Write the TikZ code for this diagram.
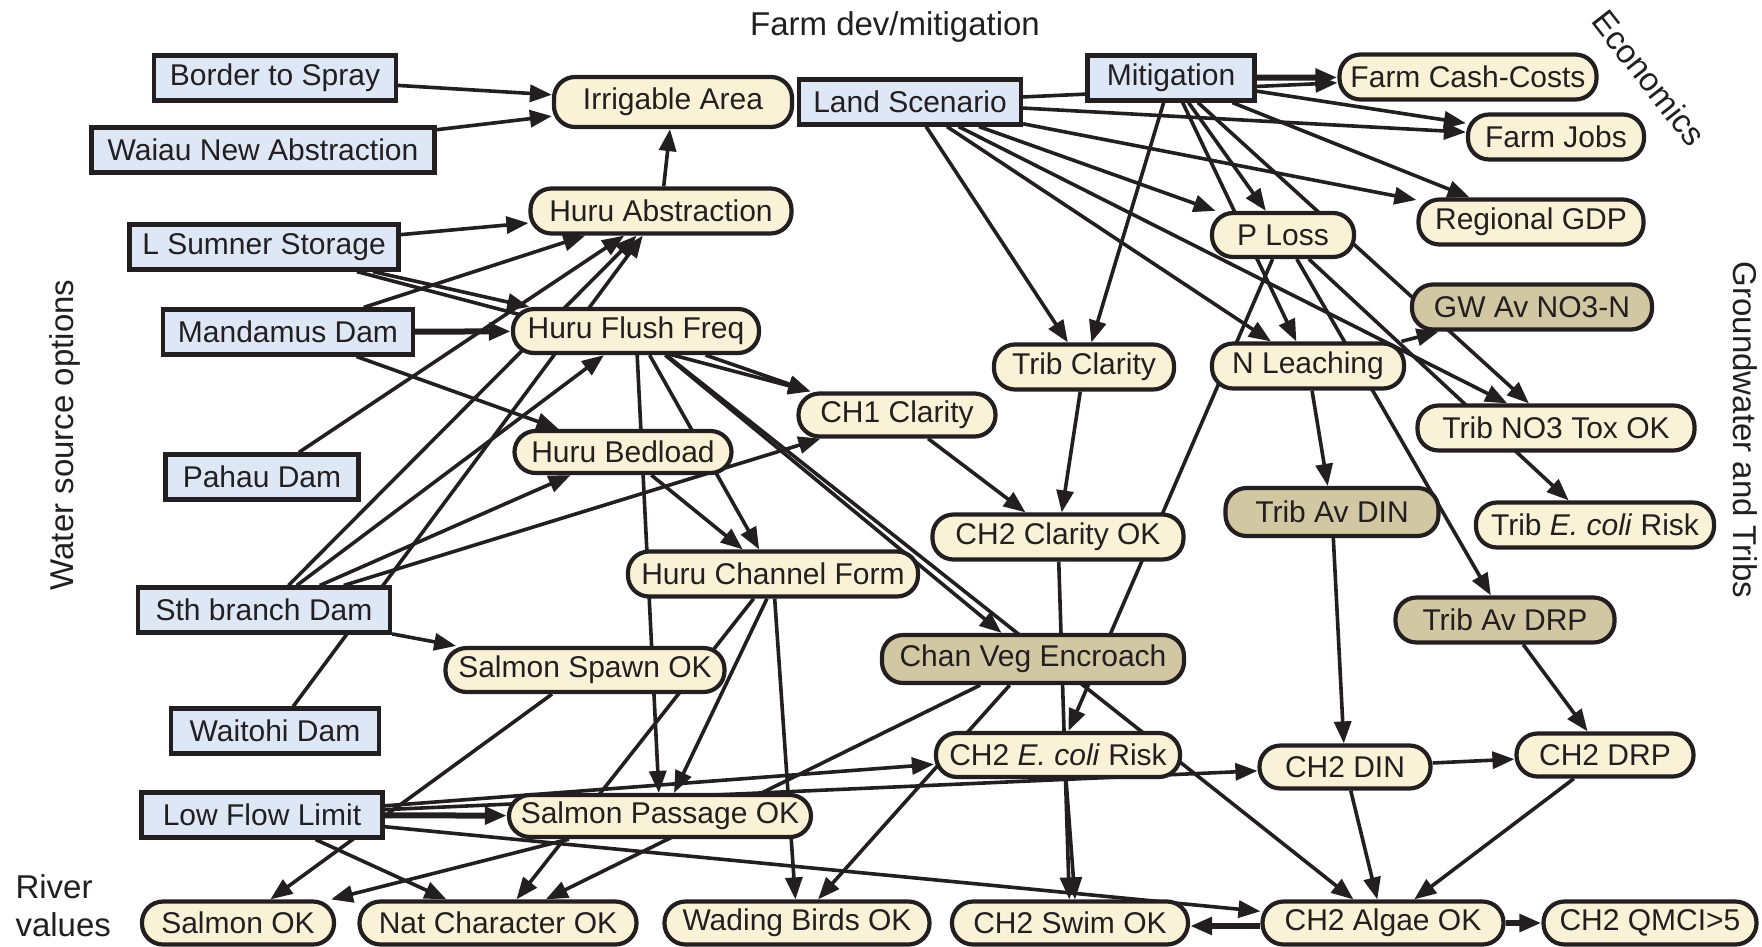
\documentclass[tikz,border=0pt]{standalone}
\usepackage{fontspec}
\setmainfont{Liberation Sans}
\usetikzlibrary{arrows.meta}
\pgfdeclarelayer{edges}
\pgfsetlayers{edges,main}

\definecolor{ink}{RGB}{35,31,32}
\definecolor{creamfill}{RGB}{250,242,214}
\definecolor{tanfill}{RGB}{210,199,163}
\definecolor{skyfill}{RGB}{221,231,246}

\tikzset{
  base/.style={draw=ink, line width=4.2pt, text=ink, inner sep=0pt,
    minimum height=45pt, font=\fontsize{30}{36}\selectfont},
  option/.style={base, fill=skyfill},
  var/.style={base, fill=creamfill, rounded corners=21pt},
  latent/.style={base, fill=tanfill, rounded corners=21pt},
  link/.style={draw=ink, line width=3.6pt, -{Triangle[length=22pt,width=17pt]}},
  heavy/.style={link, line width=6pt},
  heading/.style={text=ink, font=\fontsize{33}{38}\selectfont},
}

\begin{document}
\begin{tikzpicture}[x=1pt,y=-1pt]
\useasboundingbox (0,0) rectangle (1762,946);

% group headings
\node[heading] (hfarm) at (895,27) {Farm dev/mitigation};
\node[heading, rotate=-52] (hecon) at (1649,78) {Economics};
\node[heading, rotate=-90] (hgw) at (1745,430) {Groundwater and Tribs};
\node[heading, rotate=90] (hwater) at (65,435) {Water source options};
\node[heading, anchor=west, align=left] (hriver) at (12,906) {River\\values};

% decision options
\node[option, minimum width=242pt] (border)   at (275,78)  {Border to Spray};
\node[option, minimum width=343pt] (waiau)    at (263,150) {Waiau New Abstraction};
\node[option, minimum width=269pt] (lsumner)  at (264,247) {L Sumner Storage};
\node[option, minimum width=250pt] (mandamus) at (288,332) {Mandamus Dam};
\node[option, minimum width=193pt] (pahau)    at (262,477) {Pahau Dam};
\node[option, minimum width=252pt] (sth)      at (264,610) {Sth branch Dam};
\node[option, minimum width=208pt] (waitohi)  at (275,731) {Waitohi Dam};
\node[option, minimum width=241pt] (lfl)      at (262,815) {Low Flow Limit};
\node[option, minimum width=222pt] (land)     at (910,102) {Land Scenario};
\node[option, minimum width=167pt] (mitig)    at (1171,78) {Mitigation};

% model variables
\node[var, minimum width=238pt, minimum height=50pt] (irrig) at (673,102) {Irrigable Area};
\node[var, minimum width=261pt] (huruabs)  at (661,211)  {Huru Abstraction};
\node[var, minimum width=246pt, minimum height=44pt] (hff) at (636,331) {Huru Flush Freq};
\node[var, minimum width=217pt, minimum height=42pt] (bedload) at (623,452) {Huru Bedload};
\node[var, minimum width=290pt] (hcf)      at (773,574)  {Huru Channel Form};
\node[var, minimum width=197pt, minimum height=43pt] (ch1clar) at (897,415) {CH1 Clarity};
\node[var, minimum width=180pt] (tribclar) at (1084,367) {Trib Clarity};
\node[var, minimum width=251pt] (ch2clar)  at (1058,537) {CH2 Clarity OK};
\node[var, minimum width=257pt] (farmcash) at (1468,77)  {Farm Cash-Costs};
\node[var, minimum width=176pt] (farmjobs) at (1556,137) {Farm Jobs};
\node[var, minimum width=225pt] (gdp)      at (1531,222) {Regional GDP};
\node[var, minimum width=142pt, minimum height=44pt] (ploss) at (1283,235) {P Loss};
\node[latent, minimum width=240pt] (gwno3) at (1532,307) {GW Av NO3-N};
\node[var, minimum width=192pt] (nleach)   at (1308,366) {N Leaching};
\node[var, minimum width=277pt] (tribno3)  at (1556,428) {Trib NO3 Tox OK};
\node[latent, minimum width=213pt, minimum height=48pt] (tribdin) at (1332,512) {Trib Av DIN};
\node[var, minimum width=238pt] (tribecoli) at (1595,525) {Trib \textit{E. coli} Risk};
\node[latent, minimum width=219pt] (tribdrp) at (1505,620) {Trib Av DRP};
\node[var, minimum width=279pt, minimum height=44pt] (salspawn) at (585,670) {Salmon Spawn OK};
\node[latent, minimum width=302pt, minimum height=48pt] (chanveg) at (1033,659) {Chan Veg Encroach};
\node[var, minimum width=244pt, minimum height=44pt] (ch2ecoli) at (1058,755) {CH2 \textit{E. coli} Risk};
\node[var, minimum width=302pt, minimum height=42pt] (salpass) at (660,816) {Salmon Passage OK};
\node[var, minimum width=171pt, minimum height=43pt] (ch2din) at (1345,767) {CH2 DIN};
\node[var, minimum width=177pt, minimum height=43pt] (ch2drp) at (1605,755) {CH2 DRP};

% river values
\node[var, minimum width=192pt, minimum height=43pt] (salmonok) at (238,923) {Salmon OK};
\node[var, minimum width=277pt, minimum height=43pt] (natchar)  at (498,923) {Nat Character OK};
\node[var, minimum width=265pt, minimum height=43pt] (wading)   at (797,923) {Wading Birds OK};
\node[var, minimum width=236pt, minimum height=43pt] (ch2swim)  at (1070,923) {CH2 Swim OK};
\node[var, minimum width=241pt, minimum height=43pt] (ch2algae) at (1383,923) {CH2 Algae OK};
\node[var, minimum width=213pt, minimum height=43pt] (qmci)     at (1650,923) {CH2 QMCI>5};

\begin{pgfonlayer}{edges}
% irrigation supply
\draw[link] (border) -- (irrig);
\draw[link] (waiau) -- (irrig);
\draw[link] (huruabs) -- (irrig);
\draw[link] (lsumner) -- (huruabs);
\draw[link] (mandamus) -- (huruabs);
\draw[link] (pahau) -- (huruabs);
\draw[link] (sth) -- (huruabs);
\draw[link] (waitohi) -- (huruabs);

% flushing flows and channel processes
\draw[link] (lsumner) -- (hff);
\draw[link] (lsumner) -- ([xshift=14pt]ch1clar.north west);
\draw[heavy] (mandamus) -- (hff);
\draw[link] (mandamus) -- (bedload);
\draw[link] (sth) -- (hff);
\draw[link] (sth) -- (bedload);
\draw[link] (sth) -- (ch1clar);
\draw[link] (sth) -- (salspawn);
\draw[link] (hff) -- ([xshift=14pt]ch1clar.north west);
\draw[link] (hff) -- (hcf);
\draw[link] (hff) -- (chanveg);
\draw[link] (hff) -- (ch2algae);
\draw[link] (hff) -- (salpass);
\draw[link] (bedload) -- (hcf);
\draw[link] ([xshift=-6pt]hcf.south) -- ([xshift=14pt]salpass.north);
\draw[link] (hcf) -- (natchar);
\draw[link] (hcf) -- (wading);

% low flows and fish
\draw[heavy] (lfl) -- (salpass);
\draw[link] (lfl) -- (ch2ecoli);
\draw[link] (lfl) -- (ch2din);
\draw[link] (lfl) -- (ch2algae);
\draw[link] (lfl) -- (natchar);
\draw[link] (salspawn) -- (salmonok);
\draw[link] (salpass) -- (salmonok);
\draw[link] (chanveg) -- (natchar);
\draw[link] (chanveg) -- (wading);

% farm economics
\draw[link] (land) -- (farmcash);
\draw[heavy] (mitig) -- (farmcash);
\draw[link] (land) -- (farmjobs);
\draw[link] (mitig) -- (farmjobs);
\draw[link] (land) -- (gdp);
\draw[link] (mitig) -- (gdp);

% nutrients and tributaries
\draw[link] (land) -- (ploss);
\draw[link] (mitig) -- (ploss);
\draw[link] (land) -- (nleach);
\draw[link] (mitig) -- (nleach);
\draw[link] (land) -- (tribno3);
\draw[link] (mitig) -- (tribno3);
\draw[link] (land) -- (tribclar);
\draw[link] (mitig) -- (tribclar);
\draw[link] (nleach) -- (gwno3);
\draw[link] (nleach) -- (tribdin);
\draw[link] (ploss) -- (ch2ecoli);
\draw[link] (ploss) -- (tribdrp);
\draw[link] (ploss) -- (tribecoli);

% main stem water quality
\draw[link] (tribclar) -- (ch2clar);
\draw[link] (ch1clar) -- (ch2clar);
\draw[link] (ch2clar) -- (ch2swim);
\draw[link] ([xshift=8pt]ch2ecoli.south) -- ([xshift=5pt]ch2swim.north);
\draw[link] (tribdin) -- (ch2din);
\draw[link] (tribdrp) -- (ch2drp);
\draw[link] (ch2din) -- (ch2drp);
\draw[link] (ch2din) -- (ch2algae);
\draw[link] (ch2drp) -- (ch2algae);
\draw[heavy] (ch2algae) -- (qmci);
\draw[heavy] ([yshift=-3pt]ch2algae.west) -- ([yshift=-3pt]ch2swim.east);
\end{pgfonlayer}
\end{tikzpicture}
\end{document}
